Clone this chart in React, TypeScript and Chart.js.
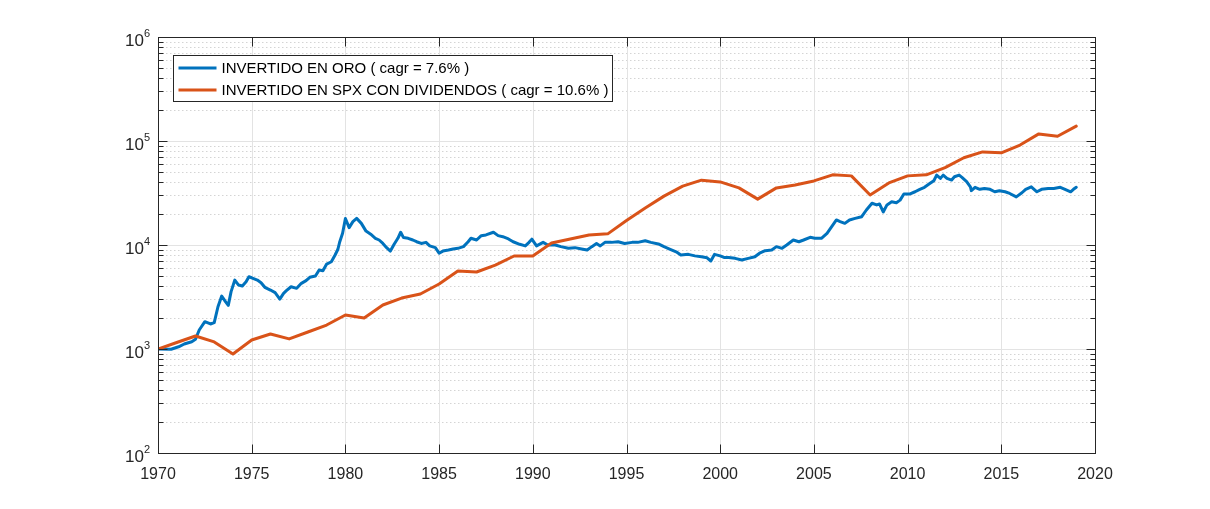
import React, { useEffect, useRef } from 'react';
import { Chart, registerables } from 'chart.js';

Chart.register(...registerables);

// ---------- data ----------
const goldYears = [
  1970.0, 1970.7, 1971.1, 1971.4, 1971.8, 1972.0, 1972.2, 1972.5, 1972.8, 1973.0,
  1973.2, 1973.4, 1973.6, 1973.75, 1973.9, 1974.1, 1974.3, 1974.5, 1974.7, 1974.85,
  1975.0, 1975.3, 1975.5, 1975.7, 1976.0, 1976.25, 1976.5, 1976.7, 1976.85, 1977.1,
  1977.4, 1977.65, 1977.9, 1978.1, 1978.4, 1978.6, 1978.8, 1979.0, 1979.25, 1979.45,
  1979.6, 1979.7, 1979.85, 1980.0, 1980.2, 1980.4, 1980.6, 1980.85, 1981.1, 1981.35,
  1981.6, 1981.8, 1982.0, 1982.2, 1982.4, 1982.6, 1982.8, 1982.95, 1983.1, 1983.35,
  1983.6, 1983.8, 1984.05, 1984.3, 1984.5, 1984.8, 1985.0, 1985.2, 1985.5, 1985.75,
  1986.0, 1986.3, 1986.55, 1986.7, 1987.0, 1987.25, 1987.5, 1987.9, 1988.15, 1988.4,
  1988.7, 1988.95, 1989.3, 1989.6, 1989.8, 1989.95, 1990.2, 1990.55, 1990.8, 1991.2,
  1991.5, 1991.9, 1992.25, 1992.6, 1992.9, 1993.15, 1993.4, 1993.6, 1993.85, 1994.2,
  1994.55, 1994.9, 1995.3, 1995.6, 1996.0, 1996.3, 1996.7, 1997.0, 1997.3, 1997.65,
  1997.9, 1998.3, 1998.65, 1999.0, 1999.3, 1999.5, 1999.7, 2000.0, 2000.2, 2000.45,
  2000.8, 2001.15, 2001.5, 2001.85, 2002.1, 2002.4, 2002.75, 2003.0, 2003.3, 2003.55,
  2003.9, 2004.2, 2004.45, 2004.8, 2005.05, 2005.4, 2005.7, 2005.95, 2006.2, 2006.4,
  2006.65, 2006.9, 2007.2, 2007.55, 2007.8, 2008.1, 2008.35, 2008.5, 2008.7, 2008.9,
  2009.15, 2009.4, 2009.6, 2009.8, 2010.1, 2010.4, 2010.65, 2010.9, 2011.2, 2011.4,
  2011.55, 2011.75, 2011.9, 2012.1, 2012.35, 2012.5, 2012.75, 2012.9, 2013.15, 2013.35,
  2013.4, 2013.6, 2013.85, 2014.1, 2014.4, 2014.65, 2014.9, 2015.2, 2015.45, 2015.8,
  2016.1, 2016.3, 2016.6, 2016.9, 2017.15, 2017.5, 2017.8, 2018.15, 2018.4, 2018.7,
  2018.85, 2019.0,
];
const goldValues = [
  1000, 995, 1050, 1117, 1175, 1240, 1523, 1830, 1740, 1790,
  2550, 3230, 2850, 2630, 3560, 4600, 4120, 4030, 4430, 4950,
  4840, 4600, 4340, 3920, 3690, 3480, 3020, 3430, 3640, 3970,
  3830, 4280, 4540, 4890, 5030, 5750, 5660, 6560, 6900, 8010,
  9100, 10750, 12950, 18000, 14700, 16780, 18020, 16150, 13600, 12690,
  11600, 11170, 10350, 9430, 8740, 10160, 11600, 13260, 11780, 11600,
  11170, 10750, 10350, 10600, 9800, 9430, 8340, 8740, 8940, 9150,
  9290, 9640, 10750, 11600, 11170, 12300, 12500, 13260, 12300, 12020,
  11440, 10750, 10160, 9800, 10600, 11370, 9800, 10600, 9990, 9990,
  9640, 9290, 9430, 9150, 8940, 9640, 10350, 9800, 10600, 10600,
  10750, 10350, 10600, 10600, 11000, 10600, 10240, 9640, 9150, 8610,
  8010, 8130, 7860, 7700, 7530, 7020, 8130, 7860, 7600, 7600,
  7440, 7180, 7440, 7700, 8340, 8820, 8940, 9640, 9290, 9990,
  11170, 10750, 11170, 11850, 11600, 11600, 12950, 15020, 17400, 16780,
  16150, 17400, 18020, 18700, 21700, 25200, 24300, 24800, 20800, 24300,
  26000, 25500, 27000, 30900, 30900, 32500, 34300, 35900, 39200, 41500,
  47000, 43700, 47000, 43700, 42100, 45300, 47000, 44700, 40700, 36300,
  33300, 35900, 34300, 35000, 34300, 32500, 33300, 32500, 31300, 29000,
  31800, 34300, 36300, 32500, 34300, 35000, 35000, 35900, 34300, 32500,
  34300, 35900,
];

const spxYears = [
  1970, 1971, 1972, 1973, 1974, 1975, 1976, 1977, 1978, 1979,
  1980, 1981, 1982, 1983, 1984, 1985, 1986, 1987, 1988, 1989,
  1990, 1991, 1992, 1993, 1994, 1995, 1996, 1997, 1998, 1999,
  2000, 2001, 2002, 2003, 2004, 2005, 2006, 2007, 2008, 2009,
  2010, 2011, 2012, 2013, 2014, 2015, 2016, 2017, 2018, 2019,
];
const spxValues = [
  1000, 1155, 1334, 1170, 895, 1220, 1394, 1250, 1457, 1700,
  2124, 1985, 2650, 3090, 3380, 4220, 5630, 5500, 6400, 7840,
  7840, 10450, 11400, 12500, 12800, 17200, 22700, 29500, 36800, 42000,
  40400, 35400, 27600, 35400, 37800, 41300, 47300, 46200, 30300, 39500,
  46200, 47300, 55400, 69000, 78500, 77000, 91500, 117000, 111000, 139000,
];

const seriesLabels = [
  'INVERTIDO EN ORO ( cagr = 7.6% )',
  'INVERTIDO EN SPX CON DIVIDENDOS ( cagr = 10.6% )',
];
const seriesColors = ['#0072BD', '#D95319'];

const xTicks = [1970, 1975, 1980, 1985, 1990, 1995, 2000, 2005, 2010, 2015, 2020];
const yDecades = [100, 1000, 10000, 100000, 1000000];

// ---------- style ----------
const FONT = '"Liberation Sans", Arial, Helvetica, sans-serif';
const AXIS = '#262626';
const GRID = '#e3e3e3';
const MINOR = '#d4d4d4';

const matlabPlugin = {
  id: 'matlabAxes',
  beforeDatasetsDraw(chart: any) {
    const { ctx, chartArea: a } = chart;
    const xs = chart.scales.x;
    const ys = chart.scales.y;
    ctx.save();
    ctx.lineWidth = 1;
    // minor y grid (dotted)
    ctx.strokeStyle = MINOR;
    ctx.setLineDash([1.5, 2.5]);
    for (let i = 0; i < yDecades.length - 1; i++) {
      for (let m = 2; m <= 9; m++) {
        const p = Math.round(ys.getPixelForValue(yDecades[i] * m)) + 0.5;
        ctx.beginPath();
        ctx.moveTo(a.left, p);
        ctx.lineTo(a.right, p);
        ctx.stroke();
      }
    }
    ctx.setLineDash([]);
    ctx.strokeStyle = GRID;
    for (const d of yDecades) {
      const p = Math.round(ys.getPixelForValue(d)) + 0.5;
      ctx.beginPath();
      ctx.moveTo(a.left, p);
      ctx.lineTo(a.right, p);
      ctx.stroke();
    }
    for (const t of xTicks) {
      const p = Math.round(xs.getPixelForValue(t)) + 0.5;
      ctx.beginPath();
      ctx.moveTo(p, a.top);
      ctx.lineTo(p, a.bottom);
      ctx.stroke();
    }
    ctx.restore();
  },
  afterDatasetsDraw(chart: any) {
    const { ctx, chartArea: a } = chart;
    const xs = chart.scales.x;
    const ys = chart.scales.y;
    const L = Math.round(a.left) + 0.5;
    const R = Math.round(a.right) + 0.5;
    const T = Math.round(a.top) + 0.5;
    const B = Math.round(a.bottom) + 0.5;
    ctx.save();
    ctx.strokeStyle = AXIS;
    ctx.lineWidth = 1;
    ctx.strokeRect(L, T, R - L, B - T);
    const major = 9;
    const minor = 5;
    ctx.beginPath();
    for (const t of xTicks) {
      const p = Math.round(xs.getPixelForValue(t)) + 0.5;
      ctx.moveTo(p, B);
      ctx.lineTo(p, B - major);
      ctx.moveTo(p, T);
      ctx.lineTo(p, T + major);
    }
    for (let i = 0; i < yDecades.length; i++) {
      const p = Math.round(ys.getPixelForValue(yDecades[i])) + 0.5;
      ctx.moveTo(L, p);
      ctx.lineTo(L + major, p);
      ctx.moveTo(R, p);
      ctx.lineTo(R - major, p);
      if (i < yDecades.length - 1) {
        for (let m = 2; m <= 9; m++) {
          const q = Math.round(ys.getPixelForValue(yDecades[i] * m)) + 0.5;
          ctx.moveTo(L, q);
          ctx.lineTo(L + minor, q);
          ctx.moveTo(R, q);
          ctx.lineTo(R - minor, q);
        }
      }
    }
    ctx.stroke();

    // tick labels
    ctx.fillStyle = AXIS;
    ctx.textBaseline = 'alphabetic';
    ctx.font = `16px ${FONT}`;
    ctx.textAlign = 'center';
    for (const t of xTicks) {
      ctx.fillText(String(t), xs.getPixelForValue(t), a.bottom + 26);
    }
    ctx.textAlign = 'left';
    for (const d of yDecades) {
      const py = ys.getPixelForValue(d);
      const exp = String(Math.round(Math.log10(d)));
      ctx.font = `11px ${FONT}`;
      const ew = ctx.measureText(exp).width;
      ctx.font = `17px ${FONT}`;
      const bw = ctx.measureText('10').width;
      const right = a.left - 8;
      ctx.fillText('10', right - ew - bw, py + 8.5);
      ctx.font = `11px ${FONT}`;
      ctx.fillText(exp, right - ew, py - 0.5);
    }

    ctx.restore();
  },
  afterDraw(chart: any) {
    const { ctx, chartArea: a } = chart;
    const bx = a.left + 15.5;
    const by = a.top + 18.5;
    const bw = 439;
    const bh = 46;
    ctx.save();
    ctx.fillStyle = '#ffffff';
    ctx.fillRect(bx, by, bw, bh);
    ctx.strokeStyle = AXIS;
    ctx.lineWidth = 1;
    ctx.strokeRect(bx, by, bw, bh);
    ctx.font = `15px ${FONT}`;
    ctx.textBaseline = 'middle';
    ctx.textAlign = 'left';
    chart.data.datasets.forEach((ds: any, i: number) => {
      const cy = by + 12.5 + i * 22;
      ctx.strokeStyle = ds.borderColor;
      ctx.lineWidth = 3;
      ctx.beginPath();
      ctx.moveTo(bx + 5, cy);
      ctx.lineTo(bx + 43, cy);
      ctx.stroke();
      ctx.fillStyle = '#000000';
      ctx.fillText(ds.label, bx + 48, cy + 1);
    });
    ctx.restore();
  },
};

export default function App() {
  const canvasRef = useRef<HTMLCanvasElement | null>(null);

  useEffect(() => {
    const canvas = canvasRef.current;
    if (!canvas) return;
    const chart = new Chart(canvas, {
      type: 'line',
      data: {
        datasets: [
          {
            label: seriesLabels[0],
            data: goldYears.map((x, i) => ({ x, y: goldValues[i] })),
            borderColor: seriesColors[0],
            backgroundColor: seriesColors[0],
            borderWidth: 3,
            pointRadius: 0,
            tension: 0,
            fill: false,
            order: 1,
          },
          {
            label: seriesLabels[1],
            data: spxYears.map((x, i) => ({ x, y: spxValues[i] })),
            borderColor: seriesColors[1],
            backgroundColor: seriesColors[1],
            borderWidth: 3,
            pointRadius: 0,
            tension: 0,
            fill: false,
            order: 0,
          },
        ],
      },
      options: {
        animation: false,
        responsive: false,
        devicePixelRatio: 1,
        layout: { padding: { left: 0, right: 115, top: 37, bottom: 0 } },
        plugins: { legend: { display: false }, tooltip: { enabled: false } },
        elements: { line: { borderJoinStyle: 'round', borderCapStyle: 'round' } },
        scales: {
          x: {
            type: 'linear',
            min: 1970,
            max: 2020,
            afterBuildTicks: (s: any) => {
              s.ticks = xTicks.map((v) => ({ value: v }));
            },
            ticks: { display: false },
            grid: { display: false },
            border: { display: false },
            afterFit: (s: any) => {
              s.height = 56;
            },
          },
          y: {
            type: 'logarithmic',
            min: 100,
            max: 1000000,
            afterBuildTicks: (s: any) => {
              s.ticks = yDecades.map((v) => ({ value: v }));
            },
            ticks: { display: false },
            grid: { display: false },
            border: { display: false },
            afterFit: (s: any) => {
              s.width = 158;
            },
          },
        },
      } as any,
      plugins: [matlabPlugin],
    });
    return () => chart.destroy();
  }, []);

  return (
    <div style={{ position: 'fixed', left: 0, top: 0, width: 1210, height: 509, background: '#ffffff' }}>
      <canvas ref={canvasRef} width={1210} height={509} style={{ display: 'block', width: 1210, height: 509 }} />
    </div>
  );
}
